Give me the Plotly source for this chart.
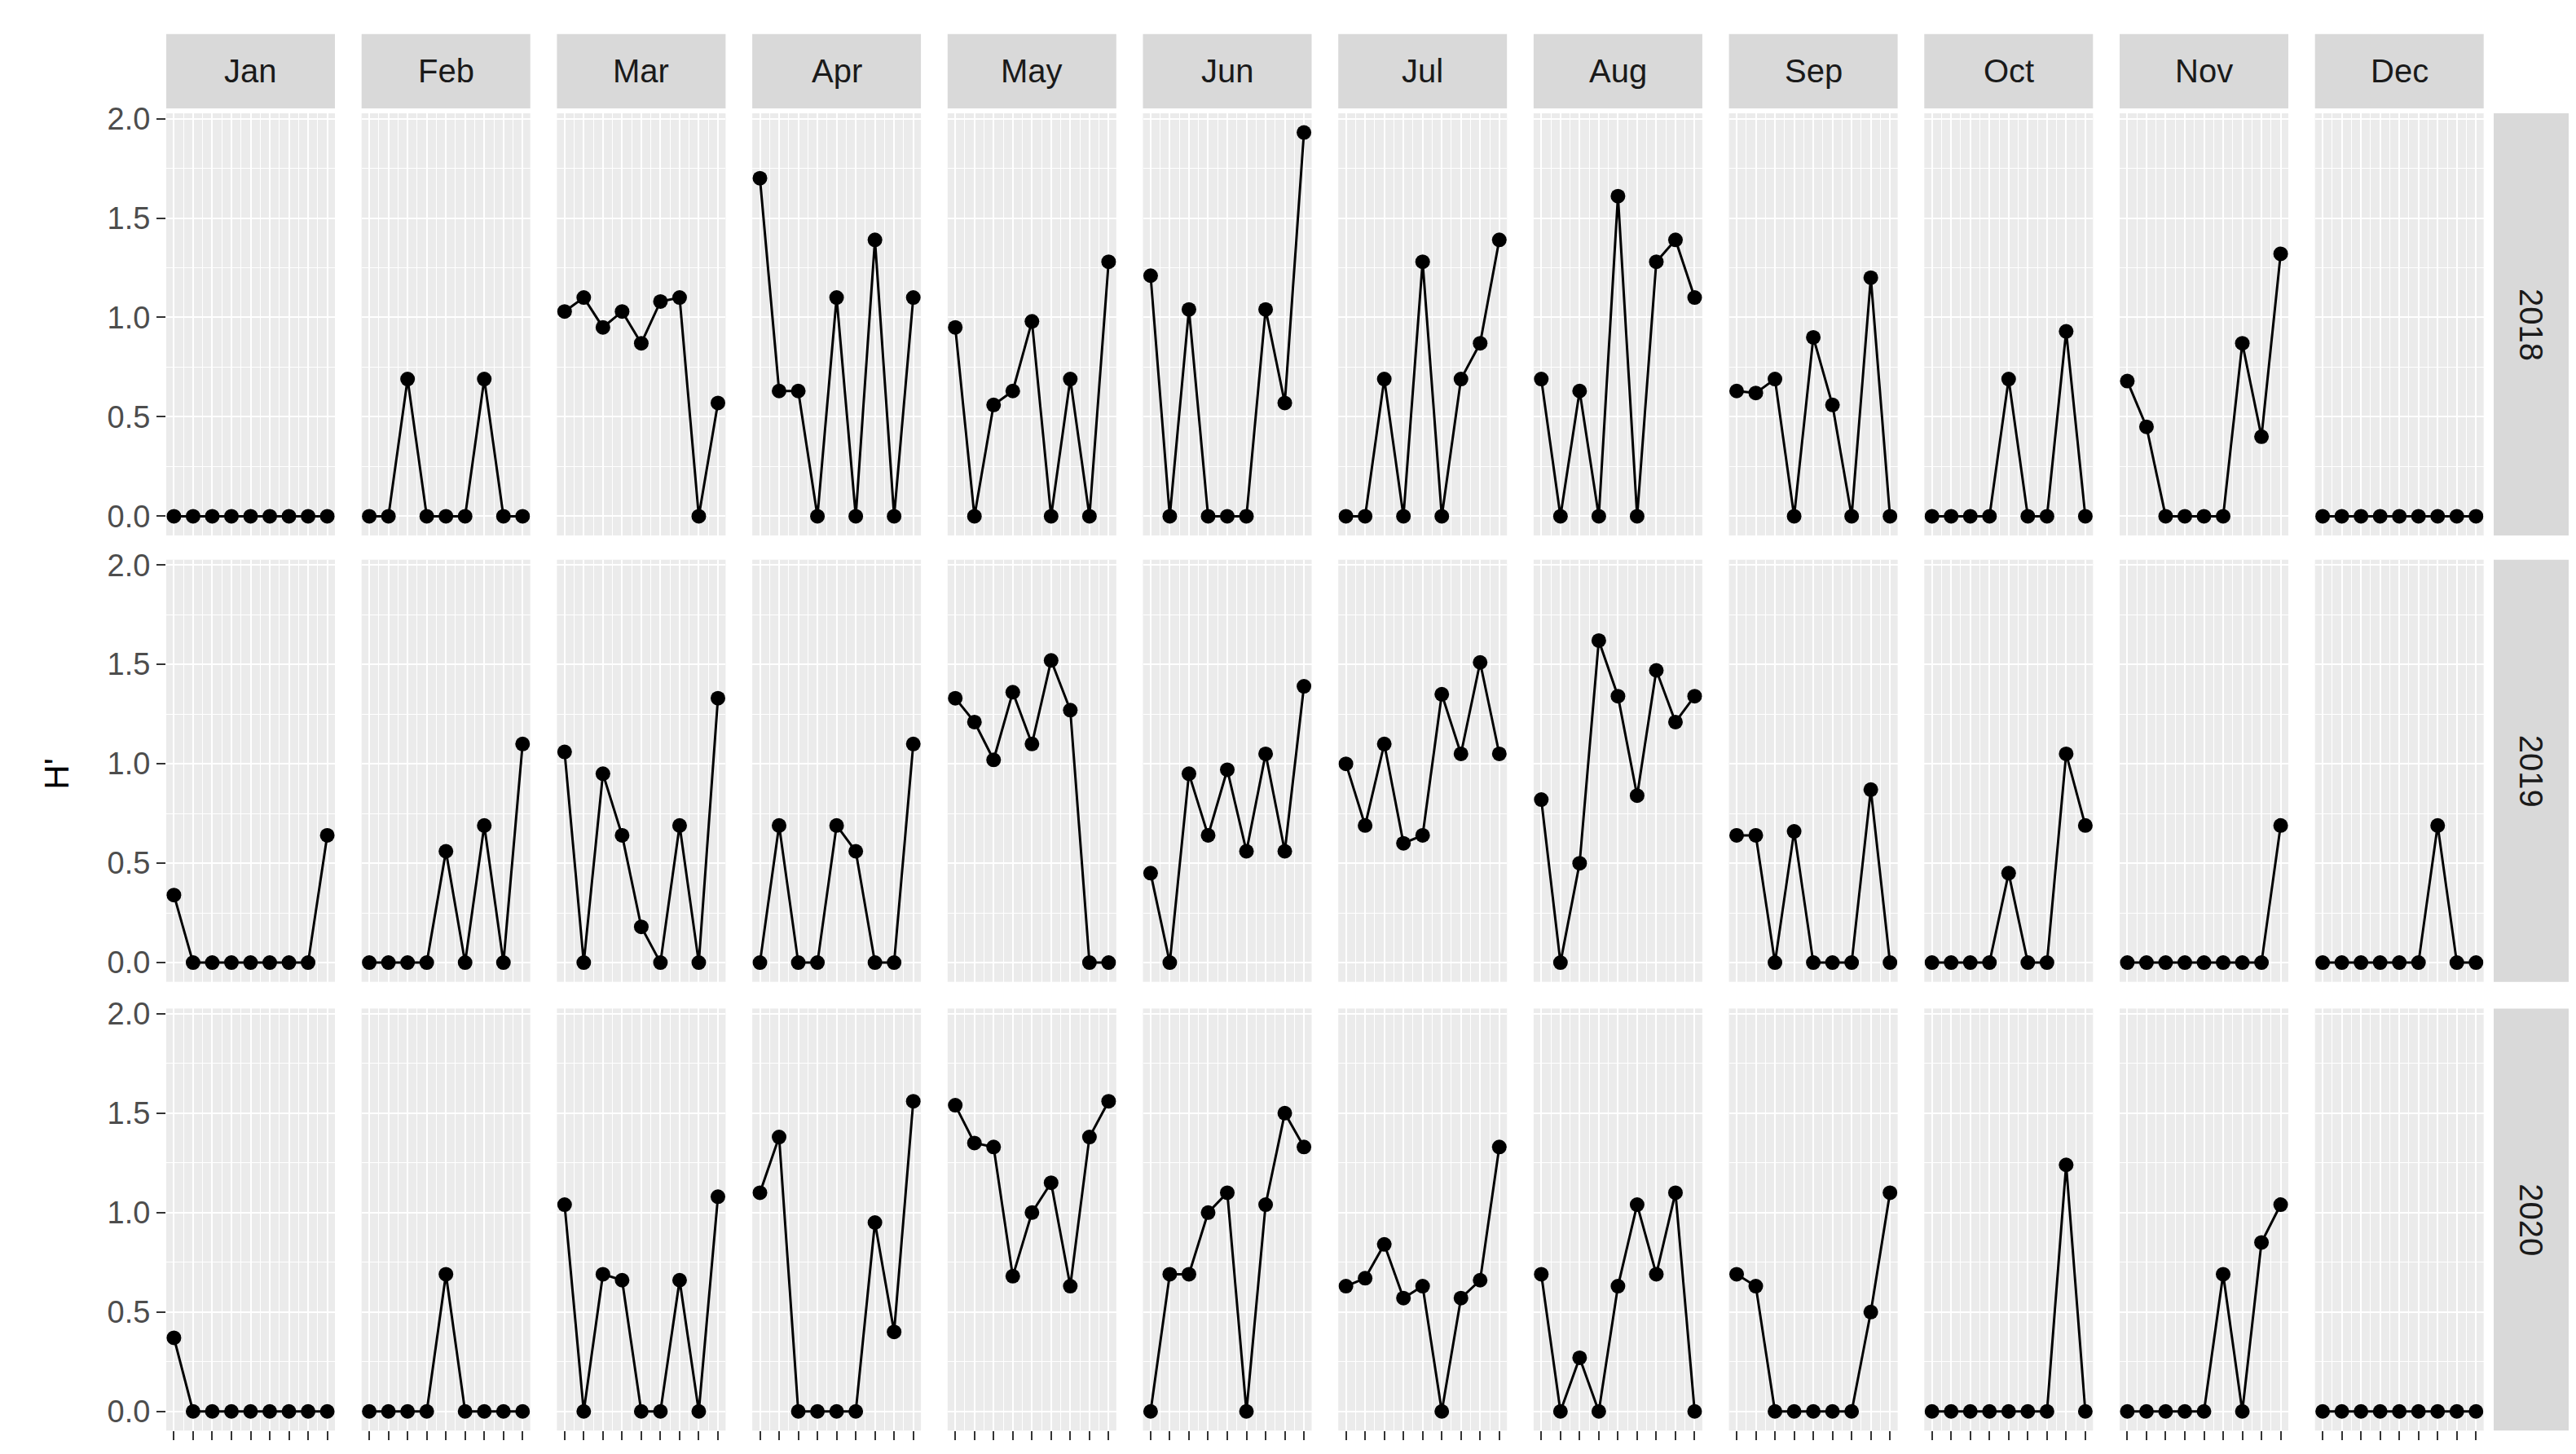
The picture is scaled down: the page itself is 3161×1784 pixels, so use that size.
import plotly.graph_objects as go

months = ["Jan","Feb","Mar","Apr","May","Jun","Jul","Aug","Sep","Oct","Nov","Dec"]
years = ["2018","2019","2020"]
samples = [1,2,3,4,5,6,7,8,9]

h2018 = [
 [0,0,0,0,0,0,0,0,0],
 [0,0,0.69,0,0,0,0.69,0,0],
 [1.03,1.10,0.95,1.03,0.87,1.08,1.10,0,0.57],
 [1.70,0.63,0.63,0,1.10,0,1.39,0,1.10],
 [0.95,0,0.56,0.63,0.98,0,0.69,0,1.28],
 [1.21,0,1.04,0,0,0,1.04,0.57,1.93],
 [0,0,0.69,0,1.28,0,0.69,0.87,1.39],
 [0.69,0,0.63,0,1.61,0,1.28,1.39,1.10],
 [0.63,0.62,0.69,0,0.90,0.56,0,1.20,0],
 [0,0,0,0,0.69,0,0,0.93,0],
 [0.68,0.45,0,0,0,0,0.87,0.40,1.32],
 [0,0,0,0,0,0,0,0,0],
]
h2019 = [
 [0.34,0,0,0,0,0,0,0,0.64],
 [0,0,0,0,0.56,0,0.69,0,1.10],
 [1.06,0,0.95,0.64,0.18,0,0.69,0,1.33],
 [0,0.69,0,0,0.69,0.56,0,0,1.10],
 [1.33,1.21,1.02,1.36,1.10,1.52,1.27,0,0],
 [0.45,0,0.95,0.64,0.97,0.56,1.05,0.56,1.39],
 [1.00,0.69,1.10,0.60,0.64,1.35,1.05,1.51,1.05],
 [0.82,0,0.50,1.62,1.34,0.84,1.47,1.21,1.34],
 [0.64,0.64,0,0.66,0,0,0,0.87,0],
 [0,0,0,0,0.45,0,0,1.05,0.69],
 [0,0,0,0,0,0,0,0,0.69],
 [0,0,0,0,0,0,0.69,0,0],
]
h2020 = [
 [0.37,0,0,0,0,0,0,0,0],
 [0,0,0,0,0.69,0,0,0,0],
 [1.04,0,0.69,0.66,0,0,0.66,0,1.08],
 [1.10,1.38,0,0,0,0,0.95,0.40,1.56],
 [1.54,1.35,1.33,0.68,1.00,1.15,0.63,1.38,1.56],
 [0,0.69,0.69,1.00,1.10,0,1.04,1.50,1.33],
 [0.63,0.67,0.84,0.57,0.63,0,0.57,0.66,1.33],
 [0.69,0,0.27,0,0.63,1.04,0.69,1.10,0],
 [0.69,0.63,0,0,0,0,0,0.50,1.10],
 [0,0,0,0,0,0,0,1.24,0],
 [0,0,0,0,0,0.69,0,0.85,1.04],
 [0,0,0,0,0,0,0,0,0],
]
data = [h2018, h2019, h2020]
yticks = [0.0, 0.5, 1.0, 1.5, 2.0]

W, H = 3161, 1784
col_x0 = 196; col_pitch = 239.7; col_w = 207
row_tops = [118, 670, 1225]; row_h = 522
strip_top = 20; strip_h = 92
rstrip_x0 = 3052; rstrip_w = 92

fig = go.Figure()
layout = dict(width=W, height=H, margin=dict(l=0, r=0, t=0, b=0), autosize=False,
              paper_bgcolor="white", plot_bgcolor="#EBEBEB", showlegend=False)
shapes = []; annotations = []
grey = "#4D4D4D"
FONT = "Liberation Sans, Arial"
for r in range(3):
    y1 = 1 - row_tops[r] / H
    y0 = 1 - (row_tops[r] + row_h) / H
    for c in range(12):
        i = r * 12 + c + 1
        x0 = (col_x0 + c * col_pitch) / W
        x1 = (col_x0 + c * col_pitch + col_w) / W
        xa = "xaxis" if i == 1 else f"xaxis{i}"
        ya = "yaxis" if i == 1 else f"yaxis{i}"
        xr = "x" if i == 1 else f"x{i}"
        yr = "y" if i == 1 else f"y{i}"
        layout[xa] = dict(domain=[x0, x1], anchor=yr, range=[0.6, 9.4],
                          tickvals=samples, ticktext=[""] * 9,
                          showgrid=True, gridcolor="white", gridwidth=2.4,
                          minor=dict(dtick=0.5, tick0=0.5, showgrid=True, gridcolor="white", gridwidth=1.2),
                          zeroline=False, showline=False,
                          ticks="outside" if r == 2 else "", ticklen=11, tickwidth=2.4, tickcolor="#333333")
        layout[ya] = dict(domain=[y0, y1], anchor=xr, range=[-0.0965, 2.0265],
                          tickvals=yticks, ticktext=[f"{v:.1f}" for v in yticks] if c == 0 else [""] * 5,
                          showticklabels=(c == 0),
                          tickfont=dict(family=FONT, size=38, color=grey),
                          showgrid=True, gridcolor="white", gridwidth=2.4,
                          minor=dict(dtick=0.25, tick0=0.25, showgrid=True, gridcolor="white", gridwidth=1.2),
                          zeroline=False, showline=False,
                          ticks="outside" if c == 0 else "", ticklen=11, tickwidth=2.4, tickcolor="#333333")
        fig.add_trace(go.Scatter(x=samples, y=data[r][c], xaxis=xr, yaxis=yr,
                                 mode="lines+markers",
                                 line=dict(color="black", width=3),
                                 marker=dict(color="black", size=18)))
        if r == 0:
            shapes.append(dict(type="rect", xref="paper", yref="paper",
                               x0=x0, x1=x1, y0=1 - (strip_top + strip_h) / H, y1=1 - strip_top / H,
                               fillcolor="#D9D9D9", line=dict(width=0), layer="below"))
            annotations.append(dict(xref="paper", yref="paper", x=(x0 + x1) / 2,
                                    y=1 - (strip_top + strip_h / 2) / H, text=months[c], showarrow=False,
                                    xanchor="center", yanchor="middle",
                                    font=dict(family=FONT, size=40, color="#1A1A1A")))
    shapes.append(dict(type="rect", xref="paper", yref="paper",
                       x0=rstrip_x0 / W, x1=(rstrip_x0 + rstrip_w) / W, y0=y0, y1=y1,
                       fillcolor="#D9D9D9", line=dict(width=0), layer="below"))
    annotations.append(dict(xref="paper", yref="paper", x=(rstrip_x0 + rstrip_w / 2) / W,
                            y=(y0 + y1) / 2, text=years[r], showarrow=False, textangle=90,
                            xanchor="center", yanchor="middle",
                            font=dict(family=FONT, size=40, color="#1A1A1A")))
annotations.append(dict(xref="paper", yref="paper", x=62 / W, y=1 - 935 / H, text="H'",
                        showarrow=False, textangle=-90, xanchor="center", yanchor="middle",
                        font=dict(family=FONT, size=42, color="black")))
layout["shapes"] = shapes
layout["annotations"] = annotations
fig.update_layout(**layout)
fig.write_html("out.html")
